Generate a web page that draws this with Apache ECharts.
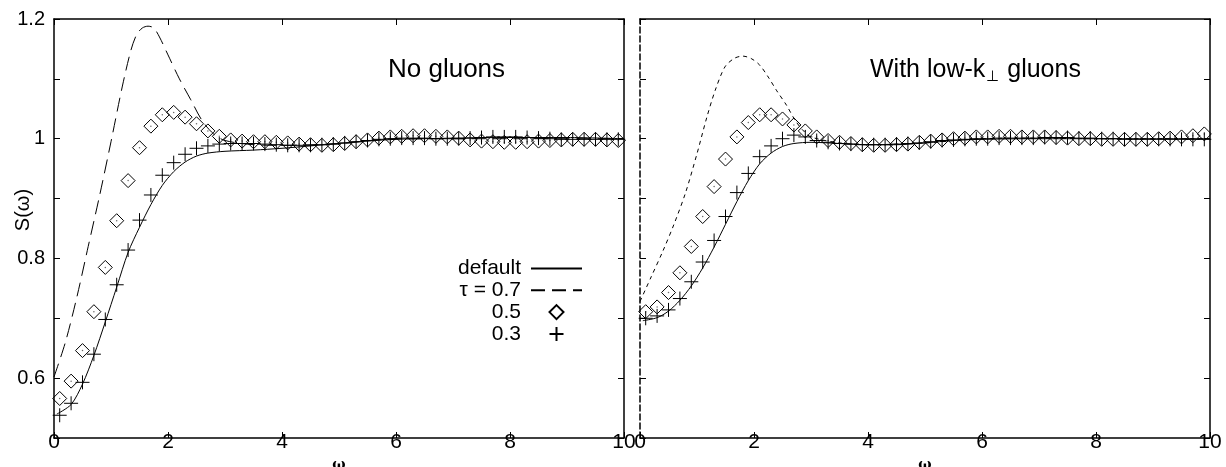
<!DOCTYPE html>
<html>
<head>
<meta charset="utf-8">
<script src="https://cdn.jsdelivr.net/npm/echarts@6/dist/echarts.min.js"></script>
<style>
  html, body { margin: 0; padding: 0; background: #fff; }
  #chart { width: 1226px; height: 467px; }
</style>
</head>
<body>
<div id="chart"></div>
<script>
// marker positions (omega)
const omega = [0.1, 0.3, 0.5, 0.7, 0.9, 1.1, 1.3, 1.5, 1.7, 1.9,
  2.1, 2.3, 2.5, 2.7, 2.9, 3.1, 3.3, 3.5, 3.7, 3.9,
  4.1, 4.3, 4.5, 4.7, 4.9, 5.1, 5.3, 5.5, 5.7, 5.9,
  6.1, 6.3, 6.5, 6.7, 6.9, 7.1, 7.3, 7.5, 7.7, 7.9,
  8.1, 8.3, 8.5, 8.7, 8.9, 9.1, 9.3, 9.5, 9.7, 9.9]

// --- No gluons ---
const noGluTau5 = [0.566, 0.595, 0.646, 0.711, 0.785, 0.863, 0.930, 0.985, 1.021, 1.040,
  1.044, 1.036, 1.025, 1.013, 1.004, 0.998, 0.996, 0.995, 0.995, 0.994,
  0.993, 0.991, 0.990, 0.989, 0.990, 0.992, 0.995, 0.998, 1.001, 1.003,
  1.004, 1.005, 1.005, 1.004, 1.003, 1.001, 0.998, 0.996, 0.995, 0.994,
  0.994, 0.995, 0.996, 0.997, 0.998, 0.999, 0.999, 0.999, 0.998, 0.997]
const noGluTau3 = [0.538, 0.558, 0.593, 0.640, 0.698, 0.756, 0.814, 0.864, 0.906, 0.939,
  0.960, 0.974, 0.984, 0.988, 0.991, 0.992, 0.992, 0.992, 0.991, 0.990,
  0.989, 0.989, 0.989, 0.990, 0.991, 0.993, 0.995, 0.997, 0.999, 1.000,
  1.001, 1.001, 1.001, 1.000, 1.000, 1.000, 1.001, 1.002, 1.003, 1.003,
  1.003, 1.002, 1.001, 1.000, 0.999, 0.999, 0.999, 0.999, 0.999, 0.999]
const noGluDefX = [0.05, 0.3, 0.5, 0.7, 0.9, 1.1, 1.3, 1.5, 1.7, 1.9, 2.1, 2.3, 2.5, 2.7, 3.0, 3.5, 4.0, 4.5, 5.0, 5.5, 6.0, 6.5, 7.0, 8.0, 9.0, 10.0]
const noGluDefY = [0.540, 0.556, 0.590, 0.638, 0.694, 0.752, 0.810, 0.852, 0.890, 0.922, 0.945, 0.961, 0.971, 0.976, 0.979, 0.981, 0.984, 0.988, 0.992, 0.996, 0.999, 1.000, 1.001, 1.002, 1.002, 1.000]
const noGluTau7X = [0.0, 0.2, 0.4, 0.6, 0.8, 1.0, 1.2, 1.35, 1.45, 1.55, 1.65, 1.75, 1.85, 2.0, 2.2, 2.4, 2.6, 2.8, 3.0, 3.5, 4.0, 5.0, 6.0, 7.0, 8.0, 9.0, 10.0]
const noGluTau7Y = [0.602, 0.660, 0.735, 0.820, 0.905, 0.995, 1.088, 1.148, 1.174, 1.185, 1.188, 1.185, 1.170, 1.140, 1.100, 1.065, 1.030, 1.008, 0.997, 0.990, 0.989, 0.992, 1.000, 1.000, 1.000, 1.000, 1.000]

// --- With low-kT gluons ---
const lowKTau5 = [0.711, 0.719, 0.743, 0.776, 0.820, 0.870, 0.920, 0.966, 1.003, 1.027,
  1.040, 1.040, 1.033, 1.023, 1.013, 1.003, 0.997, 0.994, 0.992, 0.990,
  0.989, 0.989, 0.990, 0.991, 0.994, 0.996, 0.998, 1.000, 1.001, 1.003,
  1.003, 1.004, 1.004, 1.003, 1.003, 1.003, 1.002, 1.001, 1.000, 1.000,
  0.999, 0.999, 0.999, 0.999, 0.999, 1.000, 1.001, 1.003, 1.005, 1.008]
const lowKTau3 = [0.700, 0.704, 0.714, 0.733, 0.761, 0.794, 0.830, 0.870, 0.910, 0.942,
  0.970, 0.988, 1.000, 1.006, 1.003, 0.997, 0.994, 0.992, 0.991, 0.990,
  0.990, 0.990, 0.991, 0.992, 0.993, 0.995, 0.997, 0.998, 0.999, 1.000,
  1.000, 1.001, 1.001, 1.001, 1.001, 1.002, 1.002, 1.002, 1.001, 1.001,
  1.000, 1.000, 0.999, 0.999, 0.999, 0.999, 0.999, 0.999, 0.999, 0.999]
const lowKDefX = [0.05, 0.3, 0.5, 0.7, 0.9, 1.1, 1.3, 1.5, 1.7, 1.9, 2.1, 2.3, 2.5, 2.7, 3.0, 3.5, 4.0, 4.5, 5.0, 5.5, 6.0, 7.0, 8.0, 9.0, 10.0]
const lowKDefY = [0.696, 0.701, 0.712, 0.730, 0.754, 0.784, 0.819, 0.857, 0.895, 0.930, 0.958, 0.976, 0.987, 0.992, 0.994, 0.992, 0.990, 0.990, 0.993, 0.997, 0.999, 1.000, 1.000, 1.000, 1.000]
const lowKTau7X = [0.0, 0.2, 0.4, 0.6, 0.8, 1.0, 1.17, 1.32, 1.49, 1.65, 1.8, 1.95, 2.1, 2.25, 2.4, 2.57, 2.72, 2.85, 3.0, 3.5, 4.0, 5.0, 6.0, 7.0, 8.0, 9.0, 10.0]
const lowKTau7Y = [0.728, 0.770, 0.812, 0.858, 0.910, 0.975, 1.035, 1.081, 1.120, 1.134, 1.138, 1.134, 1.123, 1.103, 1.080, 1.056, 1.031, 1.015, 1.003, 0.993, 0.990, 0.993, 1.000, 1.001, 1.000, 1.000, 1.000]

const xTicks = ['0', '2', '4', '6', '8', '10']

const FONT = 'Liberation Sans, Arial, sans-serif'
const PLUS = 'path://M0,-1L0,1M-1,0L1,0'
const DIAMOND = 'path://M0,-1L1,0L0,1L-1,0Z'

function zip(xs, ys) {
  return xs.map((x, i) => [x, ys[i]])
}

function xAxisPair(grid) {
  const base = {
    gridIndex: grid,
    type: 'value',
    min: 0,
    max: 10,
    interval: 2,
    axisLine: { onZero: false, lineStyle: { color: '#000', width: 1.5 } },
    axisTick: { inside: true, length: 6, lineStyle: { color: '#000' } },
    splitLine: { show: false }
  }
  return [
    Object.assign({}, base, {
      position: 'bottom',
      axisLabel: { margin: -6, fontSize: 21, color: '#000', fontFamily: FONT, formatter: v => xTicks[Math.round(v / 2)] },
      name: 'ω',
      nameLocation: 'middle',
      nameGap: 14,
      nameTextStyle: { fontSize: 14, fontWeight: 'bold', fontFamily: 'DejaVu Serif, serif', color: '#000' }
    }),
    Object.assign({}, base, { position: 'top', axisLabel: { show: false } })
  ]
}

function yAxisPair(grid, withLabels, leftDashed) {
  const base = {
    gridIndex: grid,
    type: 'value',
    min: 0.5,
    max: 1.2,
    interval: 0.1,
    axisTick: { inside: true, length: 6, lineStyle: { color: '#000' } },
    splitLine: { show: false }
  }
  return [
    Object.assign({}, base, {
      position: 'left',
      axisLine: { onZero: false, lineStyle: { color: '#000', width: 1.5, type: leftDashed ? [6, 3] : 'solid' } },
      axisLabel: withLabels ? {
        margin: 9, fontSize: 20, color: '#000', fontFamily: FONT,
        formatter: function (v) {
          const k = Math.round(v * 10)
          return (k % 2 === 0 && k >= 6) ? String(k / 10) : ''
        }
      } : { show: false }
    }),
    Object.assign({}, base, {
      position: 'right',
      axisLine: { onZero: false, lineStyle: { color: '#000', width: 1.5 } },
      axisLabel: { show: false }
    })
  ]
}

function panelSeries(ax, names, defX, defY, t7X, t7Y, dash, t5, t3) {
  return [
    {
      name: names[0], type: 'line', xAxisIndex: ax, yAxisIndex: ax, color: '#000',
      data: zip(defX, defY), symbol: 'none', smooth: 0.3,
      lineStyle: { color: '#000', width: 1 }, z: 2
    },
    {
      name: names[1], type: 'line', xAxisIndex: ax, yAxisIndex: ax, color: '#000',
      data: zip(t7X, t7Y), symbol: 'none', smooth: 0.3,
      lineStyle: { color: '#000', width: 1, type: dash }, z: 2
    },
    {
      name: names[2], type: 'scatter', xAxisIndex: ax, yAxisIndex: ax,
      data: zip(omega, t5), symbol: DIAMOND, symbolSize: 14,
      itemStyle: { color: 'rgba(0,0,0,0)', borderColor: '#000', borderWidth: 1, opacity: 1 }, z: 3
    },
    {
      name: names[2] + '-dot', type: 'scatter', xAxisIndex: ax, yAxisIndex: ax,
      data: zip(omega, t5), symbol: 'circle', symbolSize: 1.5,
      itemStyle: { color: '#444' }, z: 3, silent: true
    },
    {
      name: names[3], type: 'scatter', xAxisIndex: ax, yAxisIndex: ax,
      data: zip(omega, t3), symbol: PLUS, symbolSize: 14,
      itemStyle: { color: '#000', borderColor: '#000', borderWidth: 1, opacity: 1 }, z: 4
    }
  ]
}

const chart = echarts.init(document.getElementById('chart'))
chart.setOption({
  animation: false,
  backgroundColor: '#fff',
  grid: [
    { left: 54, top: 19, width: 570, height: 419, outerBoundsMode: 'none', containLabel: false },
    { left: 640, top: 19, width: 570, height: 419, outerBoundsMode: 'none', containLabel: false }
  ],
  xAxis: xAxisPair(0).concat(xAxisPair(1)),
  yAxis: yAxisPair(0, true, false).concat(yAxisPair(1, false, true)),
  legend: {
    data: [
      { name: 'default', itemStyle: { opacity: 0 } },
      { name: 'τ = 0.7', itemStyle: { opacity: 0 } },
      { name: '0.5' },
      { name: '0.3' }
    ],
    orient: 'vertical',
    align: 'right',
    right: 643,
    top: 258,
    padding: 0,
    itemWidth: 51,
    itemHeight: 14,
    itemGap: 0.8,
    symbolKeepAspect: true,
    selectedMode: false,
    textStyle: { fontSize: 21, color: '#000', fontFamily: FONT, padding: [0, 5, 0, 0] }
  },
  graphic: [
    {
      type: 'text', x: 23, y: 210, rotation: Math.PI / 2,
      style: { text: 'S(ω)', fontSize: 20, fontFamily: FONT, fill: '#000', align: 'center', verticalAlign: 'middle' }
    },
    {
      type: 'text', x: 388, y: 70,
      style: { text: 'No gluons', fontSize: 26, fontFamily: FONT, fill: '#000', align: 'left', verticalAlign: 'middle' }
    },
    {
      type: 'text', x: 870, y: 70,
      style: {
        text: 'With low-k{s|⊥} gluons', fontSize: 25, fontFamily: FONT, fill: '#000', align: 'left', verticalAlign: 'middle',
        rich: { s: { fontSize: 15, fontFamily: FONT, padding: [14, 1, 0, 1] } }
      }
    }
  ],
  series: panelSeries(0, ['default', 'τ = 0.7', '0.5', '0.3'],
    noGluDefX, noGluDefY, noGluTau7X, noGluTau7Y, [14, 7], noGluTau5, noGluTau3)
    .concat(panelSeries(2, ['default ', 'τ = 0.7 ', '0.5 ', '0.3 '],
      lowKDefX, lowKDefY, lowKTau7X, lowKTau7Y, [4, 4], lowKTau5, lowKTau3))
})
</script>
</body>
</html>
